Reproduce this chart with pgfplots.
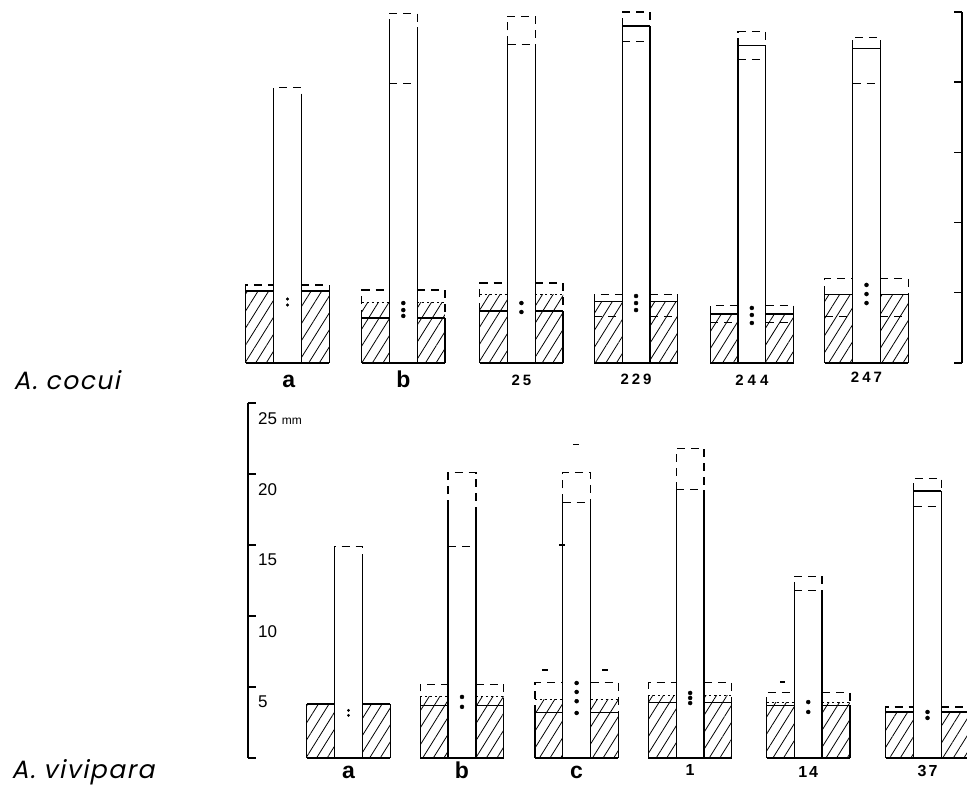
\documentclass[border=0pt]{standalone}
\usepackage{pgfplots}
\pgfplotsset{compat=1.18}
\usepackage{fontspec}
\setsansfont{Liberation Sans}
\newfontfamily\spfont[FakeSlant=0.2, LetterSpace=6]{Poppins}
\usetikzlibrary{patterns.meta}

\tikzset{
  solidl/.style={black, line width=1.3pt},
  baseln/.style={black, line width=2.4pt},
  dashedl/.style={black, line width=1.3pt, dash pattern=on 8pt off 6pt},
  dottedl/.style={black, line width=1pt, dash pattern=on 2pt off 3pt},
  hatch/.style={draw=none, pattern={Lines[angle=58, distance=9pt, line width=0.8pt]}},
  dotm/.style={only marks, mark=*, mark size=2pt, black},
  cat/.style={font=\sffamily\bfseries\fontsize{23}{23}\selectfont, anchor=base},
  num/.style={font=\sffamily\bfseries\fontsize{15}{15}\selectfont, anchor=base},
}

% #1 x, #2 solid box top, #3 hatch top, #4 dashed box top, #5 inner dashed line (0 = none)
% #6 solid bar sides up to, #7 solid bar top (1/0), #8 dashed bar top, #9 dashed bar line (0 = none)
\newcommand{\glyph}[9]{%
  \pgfmathsetmacro\gxa{#1-0.36}\pgfmathsetmacro\gxb{#1-0.12}%
  \pgfmathsetmacro\gxc{#1+0.12}\pgfmathsetmacro\gxd{#1+0.36}%
  \addplot[hatch] coordinates {(\gxa,0) (\gxb,0) (\gxb,#3) (\gxa,#3)};
  \addplot[hatch] coordinates {(\gxc,0) (\gxd,0) (\gxd,#3) (\gxc,#3)};
  \addplot[solidl] coordinates {(\gxa,#2) (\gxa,0) (\gxa,nan) (\gxd,0) (\gxd,#2) (\gxd,nan)
    (\gxa,#2) (\gxb,#2) (\gxb,nan) (\gxc,#2) (\gxd,#2) (\gxd,nan)
    (\gxb,0) (\gxb,#6) (\gxb,nan) (\gxc,0) (\gxc,#6)};
  \addplot[baseln] coordinates {(\gxa,0) (\gxd,0)};
  \ifnum#7=1 \addplot[solidl] coordinates {(\gxb,#6) (\gxc,#6)};\fi
  \addplot[dashedl] coordinates {(\gxa,#2) (\gxa,#4) (\gxb,#4) (\gxb,nan) (\gxc,#4) (\gxd,#4) (\gxd,#2)};
  \addplot[dashedl] coordinates {(\gxb,#6) (\gxb,#8) (\gxc,#8) (\gxc,#6)};
  \ifdim#3pt>#2pt \addplot[dottedl] coordinates {(\gxa,#3) (\gxb,#3) (\gxb,nan) (\gxc,#3) (\gxd,#3)};\fi
  \ifdim#5pt>0pt \addplot[dashedl] coordinates {(\gxa,#5) (\gxb,#5) (\gxb,nan) (\gxc,#5) (\gxd,#5)};\fi
  \ifdim#9pt>0pt \addplot[dashedl] coordinates {(\gxb,#9) (\gxc,#9)};\fi
}

\begin{document}
\begin{tikzpicture}
\useasboundingbox (0,0) rectangle (967pt,789pt);

% A. cocui
\begin{axis}[at={(218.02pt,426pt)}, anchor=south west,
  x=115.8pt, y=14.04pt, xmin=-0.6, xmax=5.825, ymin=0, ymax=25,
  clip=false, unbounded coords=jump,
  axis x line=none, axis y line*=right,
  axis line style={line width=1.6pt, -},
  ytick={0,5,...,25}, yticklabels={},
  tick align=inside, major tick length=8pt,
  ytick style={line width=1.4pt, black}]
\glyph{0}{5.13}{5.13}{5.56}{0}{19.0}{0}{19.6}{0}
\glyph{1}{3.2}{4.3}{5.2}{0}{23.9}{0}{24.9}{19.9}
\glyph{2.02}{3.7}{4.86}{5.7}{0}{22.7}{0}{24.7}{22.7}
\glyph{3.01}{4.36}{4.36}{4.9}{3.3}{24.0}{1}{25.0}{22.9}
\glyph{4.01}{3.5}{3.5}{4.1}{2.86}{22.6}{1}{23.6}{21.6}
\glyph{5.0}{4.9}{4.9}{6.0}{3.3}{22.4}{1}{23.2}{19.9}
\addplot[dotm, mark size=1.3pt] coordinates {(0,4.56) (0,4.13)};
\addplot[dotm] coordinates {(1,4.27) (1,3.77) (1,3.35)};
\addplot[dotm] coordinates {(2.02,4.27) (2.02,3.63)};
\addplot[dotm] coordinates {(3.01,4.77) (3.01,4.27) (3.01,3.77)};
\addplot[dotm] coordinates {(4.01,3.92) (4.01,3.42) (4.01,2.85)};
\addplot[dotm] coordinates {(5.0,5.56) (5.0,4.91) (5.0,4.27)};
\node[cat] at (axis cs:0.01,-1.78) {a};
\node[cat] at (axis cs:1.0,-1.78) {b};
\node[num] at (axis cs:2.02,-1.57) {2\hspace{3pt}5};
\node[num] at (axis cs:3.01,-1.5) {2\hspace{3pt}2\hspace{3pt}9};
\node[num] at (axis cs:4.01,-1.57) {2\hspace{4pt}4\hspace{4pt}4};
\node[num] at (axis cs:5.0,-1.42) {2\hspace{3pt}4\hspace{3pt}7};
\node[anchor=base west, font=\spfont\fontsize{25}{25}\selectfont] at (axis cs:-2.396,-1.92) {A. cocui};
\end{axis}

% A. vivipara
\begin{axis}[at={(248pt,31pt)}, anchor=south west,
  x=115.8pt, y=14.2pt, xmin=-0.868, xmax=5.5, ymin=0, ymax=25,
  clip=false, unbounded coords=jump,
  axis x line=none, axis y line*=left,
  axis line style={line width=1.6pt, -},
  ytick={0,5,...,25},
  yticklabels={,5,10,15,20,{25 {\fontsize{12}{12}\selectfont mm}}},
  yticklabel style={font=\sffamily\fontsize{17}{17}\selectfont, anchor=north west,
    inner sep=0pt, xshift=10pt, yshift=-9pt},
  tick align=inside, major tick length=8pt,
  ytick style={line width=1.4pt, black}]
\glyph{0}{3.8}{3.8}{3.8}{0}{14.4}{0}{14.9}{0}
\glyph{0.98}{3.7}{4.3}{5.2}{0}{17.6}{0}{20.1}{14.9}
\glyph{1.97}{3.2}{4.1}{5.3}{0}{18.0}{0}{20.1}{18.0}
\glyph{2.95}{3.9}{4.4}{5.3}{0}{18.9}{0}{21.8}{18.9}
\glyph{3.97}{3.7}{3.9}{4.6}{0}{11.8}{0}{12.8}{11.8}
\glyph{5.0}{3.24}{3.24}{3.6}{0}{18.8}{1}{19.7}{17.7}
% isolated extreme dashes
\addplot[solidl] coordinates {(1.67,6.2) (1.72,6.2) (1.72,nan) (2.19,6.2) (2.24,6.2) (2.24,nan)
  (1.94,22.1) (1.99,22.1) (1.99,nan) (1.82,15.0) (1.87,15.0) (1.87,nan) (3.73,5.35) (3.77,5.35)};
\addplot[dotm, mark size=1.2pt] coordinates {(0,3.35) (0,3.0)};
\addplot[dotm] coordinates {(0.98,4.3) (0.98,3.6)};
\addplot[dotm] coordinates {(1.97,5.28) (1.97,4.65) (1.97,4.0) (1.97,3.17)};
\addplot[dotm] coordinates {(2.95,4.58) (2.95,4.23) (2.95,3.87)};
\addplot[dotm] coordinates {(3.97,3.94) (3.97,3.24)};
\addplot[dotm] coordinates {(5.0,3.24) (5.0,2.82)};
\node[cat] at (axis cs:0,-1.41) {a};
\node[cat] at (axis cs:0.98,-1.41) {b};
\node[cat] at (axis cs:1.97,-1.41) {c};
\node[num, font=\sffamily\bfseries\fontsize{16}{16}\selectfont] at (axis cs:2.95,-1.2) {1};
\node[num, font=\sffamily\bfseries\fontsize{16}{16}\selectfont] at (axis cs:3.97,-1.34) {1\hspace{2pt}4};
\node[num, font=\sffamily\bfseries\fontsize{16}{16}\selectfont] at (axis cs:5.0,-1.27) {3\hspace{2pt}7};
\node[anchor=base west, font=\spfont\fontsize{25}{25}\selectfont] at (axis cs:-2.94,-1.41) {A. vivipara};
\end{axis}
\end{tikzpicture}
\end{document}
